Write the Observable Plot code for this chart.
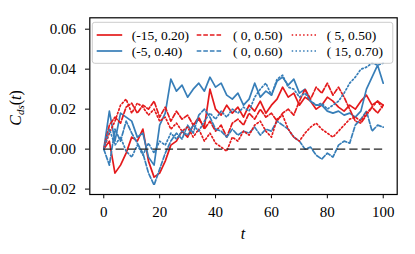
<!DOCTYPE html>
<html><head><meta charset="utf-8">
<script src="https://cdn.jsdelivr.net/npm/d3@7"></script>
<script src="https://cdn.jsdelivr.net/npm/@observablehq/plot@0.6"></script>
<style>
html,body{margin:0;padding:0;background:#fff;}
</style></head><body><div id="chart"></div>
<script>
// sample times
const times = [0,2,4,6,8,10,12,14,16,18,20,22,24,26,28,30,32,34,36,38,40,42,44,46,48,50,
  52,54,56,58,60,62,64,66,68,70,72,74,76,78,80,82,84,86,88,90,92,94,96,98,100];

const seriesLabels = ["(-15, 0.20)", "(-5, 0.40)", "( 0, 0.50)", "( 0, 0.60)", "( 5, 0.50)", "( 15, 0.70)"];

// (-15, 0.20) solid red
const solidRed = [0.000,0.004,-0.012,-0.008,-0.002,0.006,0.004,0.010,-0.006,-0.014,-0.012,-0.006,0.002,0.004,
  0.009,0.006,0.012,0.015,0.011,0.030,0.020,0.017,0.022,0.018,0.021,0.016,0.022,0.019,0.024,0.018,0.022,
  0.025,0.031,0.026,0.028,0.022,0.026,0.024,0.020,0.022,0.026,0.024,0.021,0.019,0.022,0.020,0.024,0.027,
  0.022,0.024,0.022];
// (-5, 0.40) solid blue
const solidBlue = [0.000,0.019,0.004,0.018,0.016,0.014,0.006,0.008,-0.004,-0.008,0.012,0.018,0.035,0.029,
  0.032,0.026,0.030,0.033,0.029,0.036,0.031,0.033,0.027,0.025,0.028,0.022,0.025,0.033,0.026,0.029,0.027,
  0.034,0.036,0.032,0.035,0.028,0.030,0.024,0.022,0.022,0.019,0.018,0.019,0.017,0.018,0.016,0.019,0.030,
  0.036,0.042,0.033];
// (0, 0.50) dashed red
const dashedRed = [0.000,0.012,0.016,0.013,0.021,0.023,0.018,0.022,0.020,0.024,0.016,0.021,0.014,0.019,
  0.015,0.017,0.012,0.016,0.010,0.014,0.009,0.012,0.006,0.013,0.015,0.012,0.018,0.015,0.020,0.016,0.018,
  0.014,0.018,0.020,0.017,0.024,0.030,0.025,0.031,0.028,0.033,0.027,0.031,0.026,0.020,0.014,0.013,0.017,
  0.021,0.018,0.022];
// (0, 0.60) dashed blue
const dashedBlue = [0.000,-0.008,0.010,0.004,0.014,0.008,0.003,-0.002,-0.012,-0.018,-0.010,-0.002,0.004,
  0.008,0.005,0.012,0.008,0.017,0.020,0.016,0.010,0.009,0.006,0.010,0.007,0.009,0.008,0.011,0.007,0.010,
  0.009,0.014,0.012,0.010,0.006,0.004,0.000,0.001,-0.003,-0.005,-0.002,-0.004,0.002,0.004,0.003,0.012,
  0.015,0.019,0.009,0.012,0.011];
// (5, 0.50) dotted red
const dottedRed = [0.000,0.008,0.014,0.022,0.025,0.018,0.023,0.021,0.017,0.020,0.014,0.016,0.010,0.013,
  0.009,0.011,0.006,0.010,0.004,0.008,0.003,0.001,-0.001,0.006,0.004,0.009,0.007,0.012,0.014,0.009,0.006,
  0.015,0.017,0.010,0.006,0.004,0.008,0.011,0.013,0.010,0.008,0.006,0.009,0.012,0.015,0.016,0.014,0.018,
  0.021,0.024,0.020];
// (15, 0.70) dotted blue
const dottedBlue = [0.000,0.010,0.002,0.006,-0.001,-0.004,0.002,-0.003,0.003,-0.002,0.004,0.002,0.008,
  0.005,0.009,0.007,0.012,0.009,0.014,0.018,0.015,0.019,0.016,0.020,0.018,0.021,0.019,0.026,0.030,0.033,
  0.027,0.035,0.037,0.031,0.030,0.026,0.028,0.024,0.022,0.023,0.020,0.022,0.024,0.028,0.033,0.036,0.040,
  0.041,0.043,0.042,0.043];

const xTicks = [0, 20, 40, 60, 80, 100];
const yTicks = [-0.02, 0.00, 0.02, 0.04, 0.06];

const RED = "#e41a1c", BLUE = "#377eb8";
const DASH = "4.6,2", DOT = "1.5,2.3";
const series = [
  {label: seriesLabels[0], values: solidRed,   color: RED,  dash: null},
  {label: seriesLabels[1], values: solidBlue,  color: BLUE, dash: null},
  {label: seriesLabels[2], values: dashedRed,  color: RED,  dash: DASH},
  {label: seriesLabels[3], values: dashedBlue, color: BLUE, dash: DASH},
  {label: seriesLabels[4], values: dottedRed,  color: RED,  dash: DOT},
  {label: seriesLabels[5], values: dottedBlue, color: BLUE, dash: DOT}
];

const FONT = "'Liberation Serif', 'DejaVu Serif', serif";
const lineMarks = series.map(s => Plot.line(
  times.map((t, i) => ({t, v: s.values[i]})),
  {x: "t", y: "v", stroke: s.color, strokeWidth: 1.7, strokeDasharray: s.dash || undefined}
));

const plot = Plot.plot({
  width: 415, height: 254,
  marginLeft: 89.3, marginRight: 18.3, marginTop: 17.3, marginBottom: 60,
  style: {fontFamily: FONT, fontSize: "15px", color: "#000", background: "#fff"},
  x: {domain: [-5, 105]},
  y: {domain: [-0.0227, 0.0657]},
  marks: [
    ...lineMarks,
    Plot.ruleY([0], {x1: 0, x2: 100, stroke: "#222", strokeWidth: 1.2, strokeDasharray: "8.3,4"}),
    Plot.frame({stroke: "#000", strokeWidth: 1.2}),
    Plot.axisX({ticks: xTicks, tickSize: 4.3, tickPadding: 8, label: null, fontSize: 15}),
    Plot.axisY({ticks: yTicks, tickFormat: d3.format(".2f"), tickSize: 4.3, tickPadding: 9.5, label: null, fontSize: 15})
  ]
});

const svg = d3.select(plot);
// axis labels
const yl = svg.append("text")
  .attr("transform", "translate(20.5,108) rotate(-90)")
  .attr("text-anchor", "middle")
  .style("font-family", FONT).style("font-size", "16px").attr("fill", "#000");
yl.append("tspan").style("font-style", "italic").text("C");
yl.append("tspan").style("font-style", "italic").style("font-size", "11px").attr("dy", 3).text("ds");
yl.append("tspan").attr("dy", -3).text("(");
yl.append("tspan").style("font-style", "italic").text("t");
yl.append("tspan").text(")");

svg.append("text")
  .attr("x", 243).attr("y", 239)
  .attr("text-anchor", "middle")
  .style("font-family", FONT).style("font-size", "16px").style("font-style", "italic").attr("fill", "#000")
  .text("t");

// legend
const lg = svg.append("g");
lg.append("rect")
  .attr("x", 92.3).attr("y", 22.3).attr("width", 300.5).attr("height", 41)
  .attr("rx", 2.5).attr("fill", "#fff").attr("fill-opacity", 0.8)
  .attr("stroke", "#cccccc").attr("stroke-width", 1);
const colHandle = [96.7, 196.7, 291.7];
const colText = [131.7, 233, 326.7];
const rowY = [35, 51];
series.forEach((s, i) => {
  const col = Math.floor(i / 2), row = i % 2;
  lg.append("line")
    .attr("x1", colHandle[col]).attr("x2", colHandle[col] + 25.5)
    .attr("y1", rowY[row]).attr("y2", rowY[row])
    .attr("stroke", s.color).attr("stroke-width", 1.7)
    .attr("stroke-dasharray", s.dash);
  lg.append("text")
    .attr("x", colText[col]).attr("y", rowY[row] + 4.5)
    .attr("text-anchor", "start")
    .style("font-family", FONT).style("font-size", "13.5px").attr("fill", "#000")
    .attr("xml:space", "preserve")
    .text(s.label);
});

document.getElementById("chart").appendChild(plot);
</script>
</body></html>
